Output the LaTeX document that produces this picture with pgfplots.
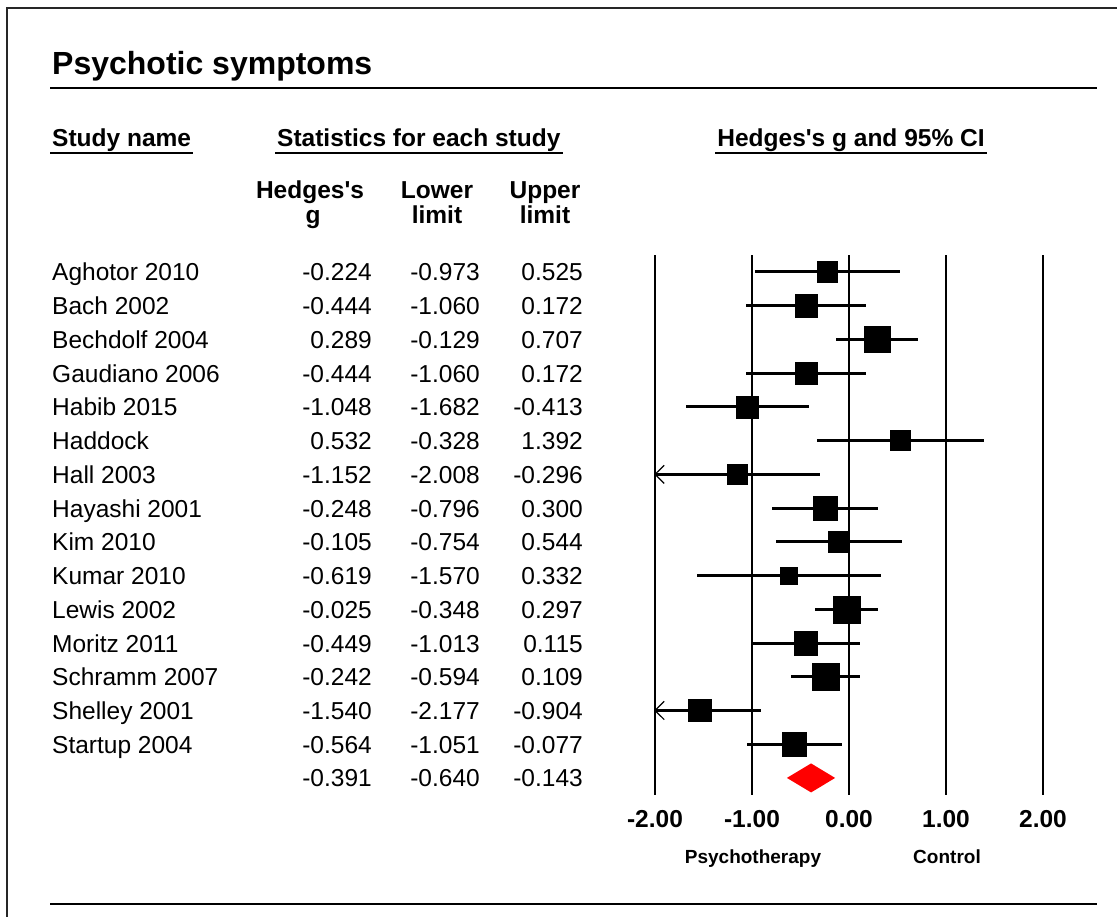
\documentclass[border=0pt]{standalone}
\usepackage{pgfplots}
\pgfplotsset{compat=1.18}
\usepackage{pgfplotstable}
\usepackage{fontspec}
\setmainfont{Liberation Sans}

% study, Hedges's g, lower, upper, half side of the weight square (px)
\pgfplotstableread[col sep=comma]{
name,g,lo,hi,h
Aghotor 2010,-0.224,-0.973,0.525,10.4
Bach 2002,-0.444,-1.060,0.172,11.2
Bechdolf 2004,0.289,-0.129,0.707,12.8
Gaudiano 2006,-0.444,-1.060,0.172,11.2
Habib 2015,-1.048,-1.682,-0.413,11.2
Haddock,0.532,-0.328,1.392,10.0
Hall 2003,-1.152,-2.008,-0.296,9.7
Hayashi 2001,-0.248,-0.796,0.300,11.9
Kim 2010,-0.105,-0.754,0.544,10.5
Kumar 2010,-0.619,-1.570,0.332,8.5
Lewis 2002,-0.025,-0.348,0.297,13.5
Moritz 2011,-0.449,-1.013,0.115,11.7
Schramm 2007,-0.242,-0.594,0.109,13.2
Shelley 2001,-1.540,-2.177,-0.904,11.2
Startup 2004,-0.564,-1.051,-0.077,12.0
}\studies

\pgfplotstableread[col sep=comma]{
g,lo,hi
-0.391,-0.640,-0.143
}\summary

\begin{document}
\begin{tikzpicture}
\useasboundingbox (0pt,0pt) rectangle (1117pt,-917pt);
\pgfplotstablegetelem{0}{g}\of\summary \let\sg\pgfplotsretval
\pgfplotstablegetelem{0}{lo}\of\summary \let\slo\pgfplotsretval
\pgfplotstablegetelem{0}{hi}\of\summary \let\shi\pgfplotsretval
\begin{scope}[x=1pt,y=-1pt,
  txt/.style={inner sep=0pt, font=\fontsize{24.5}{29}\selectfont},
  hd/.style={inner sep=0pt, font=\bfseries\fontsize{24.5}{29}\selectfont}]
  \draw[black!85, line width=2.2pt] (7,960) -- (7,8) -- (1160,8);
  \node[inner sep=0pt, anchor=base west, font=\bfseries\fontsize{32}{38}\selectfont] at (52,75) {Psychotic symptoms};
  \draw[line width=2.5pt] (50,88) -- (1097,88);
  \draw[line width=2.5pt] (50,904) -- (1097,904);
  \node[hd, anchor=base west] (h1) at (52,147) {Study name};
  \node[hd, anchor=base west] (h2) at (277,147) {Statistics for each study};
  \node[hd, anchor=base] (h3) at (851,147) {Hedges\textquotesingle s g and 95\% CI};
  \foreach \n in {h1,h2,h3}
    \draw[line width=1.6pt] ([xshift=-2pt,yshift=-6pt]\n.base west) -- ([xshift=2pt,yshift=-6pt]\n.base east);
  \node[hd, anchor=base] at (310,199) {Hedges\textquotesingle s};
  \node[hd, anchor=base] at (313,224) {g};
  \node[hd, anchor=base] at (437,199) {Lower};
  \node[hd, anchor=base] at (437,224) {limit};
  \node[hd, anchor=base] at (545,199) {Upper};
  \node[hd, anchor=base] at (545,224) {limit};
  \pgfplotstablegetrowsof{\studies}
  \pgfmathtruncatemacro\lastrow{\pgfplotsretval-1}
  \foreach \r in {0,...,\lastrow}{
    \pgfmathsetmacro\yb{281+33.73*\r}
    \pgfplotstablegetelem{\r}{name}\of\studies
    \node[txt, anchor=base west] at (52,\yb) {\pgfplotsretval};
    \pgfplotstablegetelem{\r}{g}\of\studies
    \node[txt, anchor=base east] at (372,\yb) {\pgfplotsretval};
    \pgfplotstablegetelem{\r}{lo}\of\studies
    \node[txt, anchor=base east] at (480,\yb) {\pgfplotsretval};
    \pgfplotstablegetelem{\r}{hi}\of\studies
    \node[txt, anchor=base east] at (583,\yb) {\pgfplotsretval};
  }
  \pgfmathsetmacro\yb{281+33.73*15}
  \node[txt, anchor=base east] at (372,\yb) {\sg};
  \node[txt, anchor=base east] at (480,\yb) {\slo};
  \node[txt, anchor=base east] at (583,\yb) {\shi};
  \node[inner sep=0pt, anchor=base, font=\bfseries\fontsize{19}{23}\selectfont] at (753,863) {Psychotherapy};
  \node[inner sep=0pt, anchor=base, font=\bfseries\fontsize{19}{23}\selectfont] at (947,863) {Control};
\end{scope}

\begin{axis}[
  at={(655pt,-794.8pt)}, anchor=south west,
  width=388pt, height=539.68pt, scale only axis,
  xmin=-2, xmax=2, ymin=-15.5, ymax=0.5,
  axis line style={draw=none},
  xtick={-2,-1,0,1,2},
  xticklabels={-2.00,-1.00,0.00,1.00,2.00},
  ytick=\empty,
  major tick length=0pt,
  tick style={draw=none},
  xmajorgrids,
  grid style={black, line width=2.2pt},
  xticklabel style={font=\bfseries\fontsize{24.5}{29}\selectfont, anchor=base, yshift=-33pt, inner sep=0pt},
  /pgf/number format/assume math mode=true,
]
\addplot[only marks, mark=none, forget plot, black, line width=3pt,
  error bars/.cd, x dir=both, x explicit, error mark=none,
  error bar style={line width=3pt, black}]
  table[x=g, y expr=-\coordindex,
        x error minus expr=\thisrow{g}-\thisrow{lo},
        x error plus expr=\thisrow{hi}-\thisrow{g}] {\studies};
% open arrow heads where the interval runs past -2 (Hall 2003, Shelley 2001)
\addplot[black, line width=1.2pt, forget plot] coordinates {(-1.905,-5.73) (-2,-6) (-1.905,-6.27)};
\addplot[black, line width=1.2pt, forget plot] coordinates {(-1.905,-12.73) (-2,-13) (-1.905,-13.27)};
\addplot[scatter, only marks, mark=square*, point meta=x,
  scatter/use mapped color={draw=black, fill=black},
  visualization depends on={\thisrow{h} \as \hs},
  scatter/@pre marker code/.append style={/tikz/mark size=\hs pt, /tikz/line width=0.2pt}]
  table[x=g, y expr=-\coordindex] {\studies};
\addplot[fill=red, draw=none] coordinates {(\slo,-15) (\sg,-14.57) (\shi,-15) (\sg,-15.43)} -- cycle;
\end{axis}
\end{tikzpicture}
\end{document}
